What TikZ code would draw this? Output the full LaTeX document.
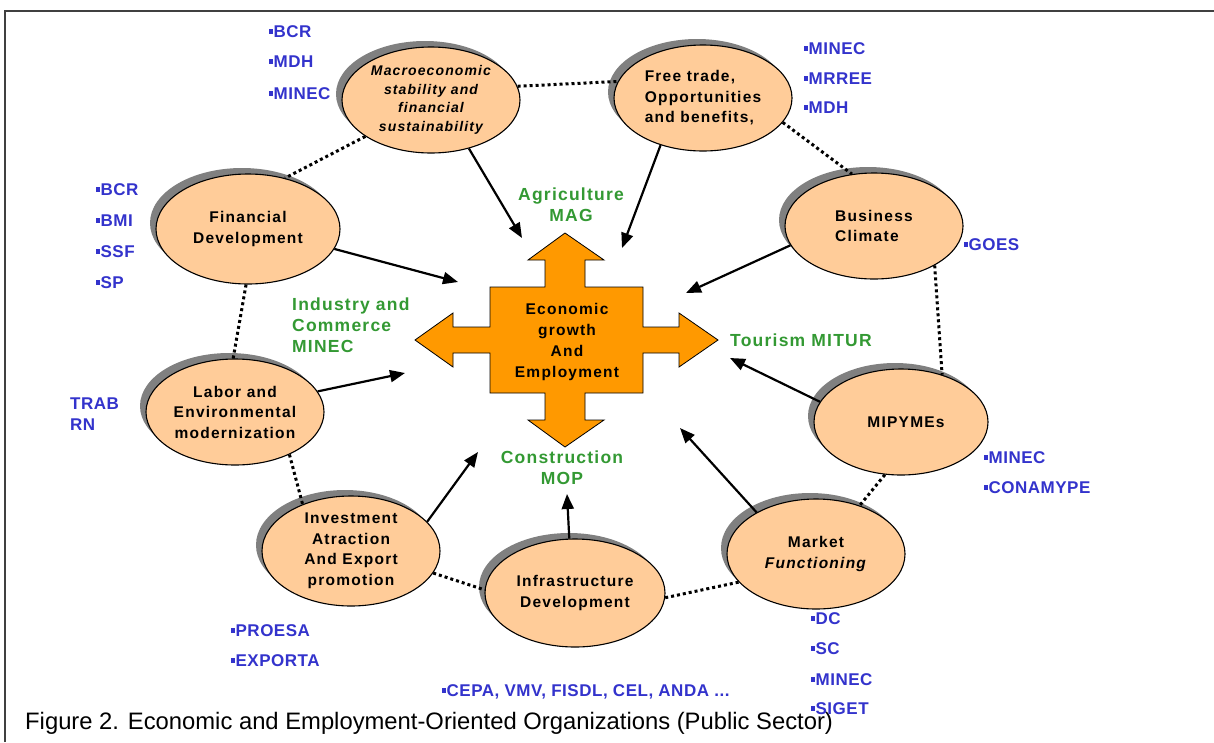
\documentclass[tikz,border=0pt]{standalone}
\usepackage{fontspec}
\setmainfont{Liberation Sans}
\newfontfamily\ovalfont[LetterSpace=8]{Liberation Sans}
\newfontfamily\tagfont[LetterSpace=3]{Liberation Sans}
\newfontfamily\sectfont[LetterSpace=7]{Liberation Sans}
\usetikzlibrary{shapes.geometric,arrows.meta,shadows}
\definecolor{peach}{HTML}{FFCC99}
\definecolor{shade}{HTML}{808080}
\definecolor{crossorange}{HTML}{FF9900}
\definecolor{orgblue}{HTML}{3333CC}
\definecolor{sectgreen}{HTML}{339933}
\newcommand\sqmark{\rule[0.22em]{0.2em}{0.27em}\kern0.06em}
\begin{document}
\begin{tikzpicture}[x=1pt,y=-1pt,
  oval/.style={ellipse, draw=black, line width=1.1pt, fill=peach,
    minimum width=178pt, minimum height=106pt, inner sep=0pt, align=center,
    font=\ovalfont\bfseries\fontsize{15.5}{20.5}\selectfont,
    drop shadow={shadow xshift=-6pt, shadow yshift=6pt, fill=shade, opacity=1}},
  ring/.style={line width=3pt, dash pattern=on 3pt off 3pt},
  feed/.style={line width=2.2pt, -{Triangle[length=15pt,width=12pt]}},
  tag/.style={anchor=base west, inner sep=0pt, text=orgblue,
    font=\tagfont\bfseries\fontsize{17}{20}\selectfont},
  sector/.style={text=sectgreen, inner sep=0pt,
    font=\sectfont\bfseries\fontsize{17.5}{21}\selectfont}]

\useasboundingbox (0,0) rectangle (1214,742);
\fill[white] (0,0) rectangle (1214,742);

% frame lines
\draw[line width=1.6pt, black!75] (5,742) -- (5,11) -- (1214,11);

% central cross with four arrow heads
\fill[crossorange, draw=black, line width=0.8pt]
  (565,233) -- (604,260) -- (585,260) -- (585,287) -- (643,287) -- (643,327)
  -- (679,327) -- (679,313) -- (718,340) -- (679,367) -- (679,353) -- (643,353)
  -- (643,393) -- (585,393) -- (585,420) -- (604,420) -- (565,447) -- (528,420)
  -- (545,420) -- (545,393) -- (490,393) -- (490,353) -- (453,353) -- (453,367)
  -- (415,340) -- (453,313) -- (453,327) -- (490,327) -- (490,287) -- (545,287)
  -- (545,260) -- (528,260) -- cycle;
\node[align=center, inner sep=0pt, font=\ovalfont\bfseries\fontsize{15.5}{20.7}\selectfont]
  (core) at (567,342) {Economic\\growth\\And\\Employment};

% policy areas
\node[oval, font=\ovalfont\bfseries\itshape\fontsize{14}{18.5}\selectfont] (macro) at (431,100)
  {Macroeconomic\\stability and\\financial\\sustainability};
\node[oval, align=left] (free) at (703,98) {Free trade,\\Opportunities\\and benefits,};
\node[oval, minimum width=184pt, minimum height=110pt] (fin) at (248,229) {Financial\\Development};
\node[oval, align=left] (bus) at (874,226) {Business\\Climate};
\node[oval] (lab) at (235,412) {Labor and\\Environmental\\modernization};
\node[oval, minimum width=174pt] (mip) at (901,422) {\hspace*{10pt}MIPYMEs};
\node[oval, minimum height=110pt] (inv) at (351,551) {Investment\\Atraction\\And Export\\promotion};
\node[oval, minimum width=180pt, minimum height=108pt] (infra) at (575,593) {Infrastructure\\Development};
\node[oval, minimum height=110pt] (mkt) at (816,554) {Market\\\textit{Functioning}};

% dotted ring
\draw[ring] (macro.9) -- (free.169);
\draw[ring] (macro.209) -- (fin.54);
\draw[ring] (free.343) -- (bus.113);
\draw[ring] (fin.268) -- (lab.92);
\draw[ring] (bus.327) -- (mip.49);
\draw[ring] (lab.322) -- (inv.136);
\draw[ring] (mip.253) -- (mkt.48);
\draw[ring] (inv.345) -- (infra.178);
\draw[ring] (infra.357) -- (mkt.200);

% arrows towards the centre
\coordinate (tMacro) at (522,238);
\coordinate (tFree) at (622,248);
\coordinate (tFin) at (458,282);
\coordinate (tBus) at (686,293);
\coordinate (tLab) at (405,373);
\coordinate (tMip) at (730,358);
\coordinate (tInv) at (478,452);
\coordinate (tInfra) at (567,494);
\coordinate (tMkt) at (680,428);
\draw[feed] (macro.308) -- (tMacro);
\draw[feed] (free.228) -- (tFree);
\draw[feed] (fin.347) -- (tFin);
\draw[feed] (bus.193) -- (tBus);
\draw[feed] (lab.14) -- (tLab);
\draw[feed] (mip.166) -- (tMip);
\draw[feed] (inv.21) -- (tInv);
\draw[feed] (infra.96) -- (tInfra);
\draw[feed] (mkt.145) -- (tMkt);

% sector labels
\node[sector, align=center] (agri) at (571,205) {Agriculture\\MAG};
\node[sector, align=left, anchor=west] (indu) at (292,325) {Industry and\\Commerce\\MINEC};
\node[sector, anchor=west] (tour) at (730,340) {Tourism MITUR};
\node[sector, align=center] (cons) at (562,468) {Construction\\MOP};

% institutions
\foreach \n/\t/\y in {a/BCR/31, b/MDH/61, c/MINEC/93}
  \node[tag] (macroOrg\n) at (269,\y+6.5) {\sqmark\t};
\foreach \n/\t/\y in {a/MINEC/48, b/MRREE/78, c/MDH/107}
  \node[tag] (freeOrg\n) at (804,\y+6.5) {\sqmark\t};
\foreach \n/\t/\y in {a/BCR/189, b/BMI/220, c/SSF/251, d/SP/282}
  \node[tag] (finOrg\n) at (96,\y+6.5) {\sqmark\t};
\node[tag] (busOrg) at (964,244+6.5) {\sqmark GOES};
\node[tag] (labOrga) at (70,403+6.5) {TRAB};
\node[tag] (labOrgb) at (70,424+6.5) {RN};
\foreach \n/\t/\y in {a/MINEC/457, b/CONAMYPE/487}
  \node[tag] (mipOrg\n) at (984,\y+6.5) {\sqmark\t};
\foreach \n/\t/\y in {a/PROESA/630, b/EXPORTA/660}
  \node[tag] (invOrg\n) at (231,\y+6.5) {\sqmark\t};
\node[tag] (infraOrg) at (442,690+6.5) {\sqmark CEPA, VMV, FISDL, CEL, ANDA ...};

% caption
\node[anchor=base west, inner sep=0pt, font=\fontsize{23.8}{28}\selectfont] (caption) at (25,729)
  {Figure 2. Economic and Employment-Oriented Organizations (Public Sector)};

\foreach \n/\t/\y in {a/DC/618, b/SC/648, c/MINEC/679, d/SIGET/708}
  \node[tag] (mktOrg\n) at (811,\y+6.5) {\sqmark\t};
\end{tikzpicture}
\end{document}
